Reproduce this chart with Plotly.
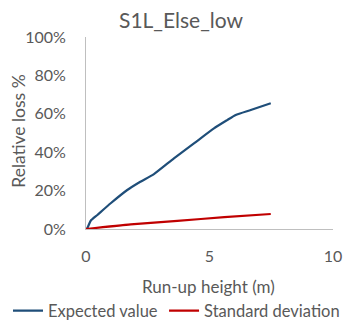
import plotly.graph_objects as go

title = "S1L_Else_low"
x_label = "Run-up height (m)"
y_label = "Relative loss %"

runup = [0, 0.05, 0.19, 0.46, 1.0, 1.67, 2.2, 2.75, 3.56, 4.37, 5.18, 5.7, 6.06, 6.67, 7.48]
expected = [0, 0.4, 4.3, 7.3, 13.4, 20.3, 24.6, 28.6, 36.8, 44.6, 52.4, 56.6, 59.4, 62.0, 65.5]
std_x = [0, 1.81, 3.7, 5.6, 7.48]
std_dev = [0, 2.4, 4.2, 6.2, 7.8]

x_ticks = [0, 5, 10]
y_ticks = [0, 20, 40, 60, 80, 100]
y_tick_text = ["0%", "20%", "40%", "60%", "80%", "100%"]

font = "Lato, 'Open Sans', sans-serif"
grey = "#595959"

fig = go.Figure()
fig.add_trace(go.Scatter(x=runup, y=expected, mode="lines", name="Expected value",
                         legend="legend",
                         line=dict(color="#1f4e79", width=2.2, shape="spline", smoothing=0.5)))
fig.add_trace(go.Scatter(x=std_x, y=std_dev, mode="lines", name="Standard deviation",
                         legend="legend2",
                         line=dict(color="#c00000", width=2.2, shape="spline", smoothing=0.5)))

leg_common = dict(orientation="h", yanchor="middle", xanchor="left",
                  font=dict(size=16.5, color=grey, family=font), itemwidth=30,
                  bgcolor="rgba(0,0,0,0)")

fig.update_layout(
    width=347, height=320,
    margin=dict(l=78, r=22, t=29, b=99, autoexpand=False),
    paper_bgcolor="white", plot_bgcolor="white",
    font=dict(family=font, color=grey, size=16),
    title=dict(text=title, xref="container", x=0.4986, xanchor="center",
               yref="container", y=0.959, yanchor="middle",
               font=dict(size=21, color=grey, family=font)),
    xaxis=dict(range=[0, 10], tickvals=x_ticks, showgrid=False, zeroline=False,
               showline=True, linecolor="#bfbfbf", linewidth=1, ticks="",
               ticklabelstandoff=13, automargin=False,
               tickfont=dict(size=16, color=grey)),
    yaxis=dict(range=[0, 100], tickvals=y_ticks, ticktext=y_tick_text,
               showgrid=False, zeroline=False, showline=True, linecolor="#bfbfbf",
               linewidth=1, ticks="", ticklabelstandoff=16, automargin=False,
               tickfont=dict(size=16, color=grey)),
    legend=dict(x=-0.3158, y=-0.427, **leg_common),
    legend2=dict(x=0.316, y=-0.427, **leg_common),
    showlegend=True,
    annotations=[
        dict(text=x_label, xref="paper", yref="paper", x=0.496, y=-0.297,
             xanchor="center", yanchor="middle", showarrow=False,
             font=dict(size=17, color=grey, family=font)),
        dict(text=y_label, xref="paper", yref="paper", x=-0.273, y=0.51,
             xanchor="center", yanchor="middle", showarrow=False, textangle=-90,
             font=dict(size=17.5, color=grey, family=font)),
    ],
)

fig.write_html("out.html")
